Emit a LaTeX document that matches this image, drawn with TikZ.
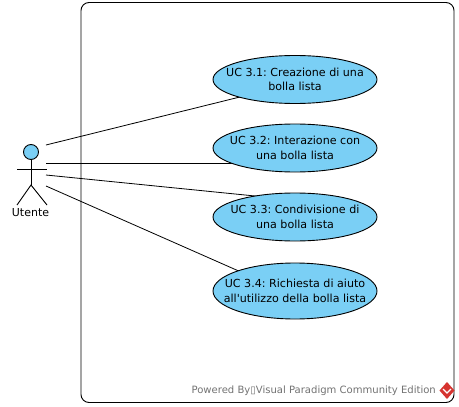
\documentclass[tikz,border=0pt]{standalone}
\usepackage{fontspec}
\setmainfont{DejaVu Sans}
\newfontfamily\plainfont{DejaVu Sans}
\usetikzlibrary{shapes.geometric}
\definecolor{ucblue}{RGB}{122,207,245}
\definecolor{logored}{RGB}{214,52,48}
\tikzset{
  usecase/.style={ellipse,draw=black,fill=ucblue,line width=0.9pt,inner sep=-16pt,minimum width=164pt,align=center,font=\plainfont\frenchspacing\fontsize{11.1}{14.5}\selectfont},
  assoc/.style={draw=black,line width=0.8pt},
  limb/.style={draw=black,line width=0.9pt}
}
\begin{document}
\begin{tikzpicture}[x=1pt,y=-1pt]
\useasboundingbox (0,0) rectangle (459,407);
\fill[white] (0,0) rectangle (459,407);
\node[draw=black,line width=0.9pt,rounded corners=8pt,minimum width=373pt,minimum height=400pt,inner sep=0pt] (frame) at (267.5,202.5) {};
% actor
\node[circle,draw=black,fill=ucblue,line width=0.9pt,minimum size=15pt,inner sep=0pt] (head) at (31,152) {};
\coordinate (hip) at (31,185);
\coordinate (armL) at (17,169);
\coordinate (armR) at (47,169);
\coordinate (footL) at (17,205);
\coordinate (footR) at (47,205);
\draw[limb] (head.south) -- (hip);
\draw[limb] (armL) -- (armR);
\draw[limb] (footL) -- (hip) -- (footR);
\node[font=\fontsize{11}{13}\selectfont,inner sep=0pt] (actor) at (30.5,212.5) {Utente};
% connector ends
\coordinate (a1) at (46,145);
\coordinate (a2) at (46,163);
\coordinate (a3) at (46,175);
\coordinate (a4) at (46,186);
\coordinate (e1) at (250,94.5);
\coordinate (e2) at (250,163);
\coordinate (e3) at (265,197);
\coordinate (e4) at (250,276);
\draw[assoc] (a1) -- (e1);
\draw[assoc] (a2) -- (e2);
\draw[assoc] (a3) -- (e3);
\draw[assoc] (a4) -- (e4);
% use cases
\node[usecase,minimum height=48pt] (uc1) at (295,79.5) {UC 3.1: Creazione di una\\bolla lista};
\node[usecase,minimum height=48pt] (uc2) at (295,148) {UC 3.2: Interazione con\\una bolla lista};
\node[usecase,minimum height=48pt] (uc3) at (295,217) {UC 3.3: Condivisione di\\una bolla lista};
\node[usecase,minimum height=56pt] (uc4) at (295,291) {UC 3.4: Richiesta di aiuto\\all'utilizzo della bolla lista};
% watermark
\node[anchor=east,text=black!55,font=\frenchspacing\fontsize{10.05}{12}\selectfont,inner sep=0pt] (wm) at (436,391) {Powered By▯Visual Paradigm Community Edition};
\fill[logored] (447,382) -- (454.5,390.5) -- (447,399) -- (439.5,390.5) -- cycle;
\draw[white,line width=1.2pt] (443,389) -- (447,393) -- (451,389);
\end{tikzpicture}
\end{document}
